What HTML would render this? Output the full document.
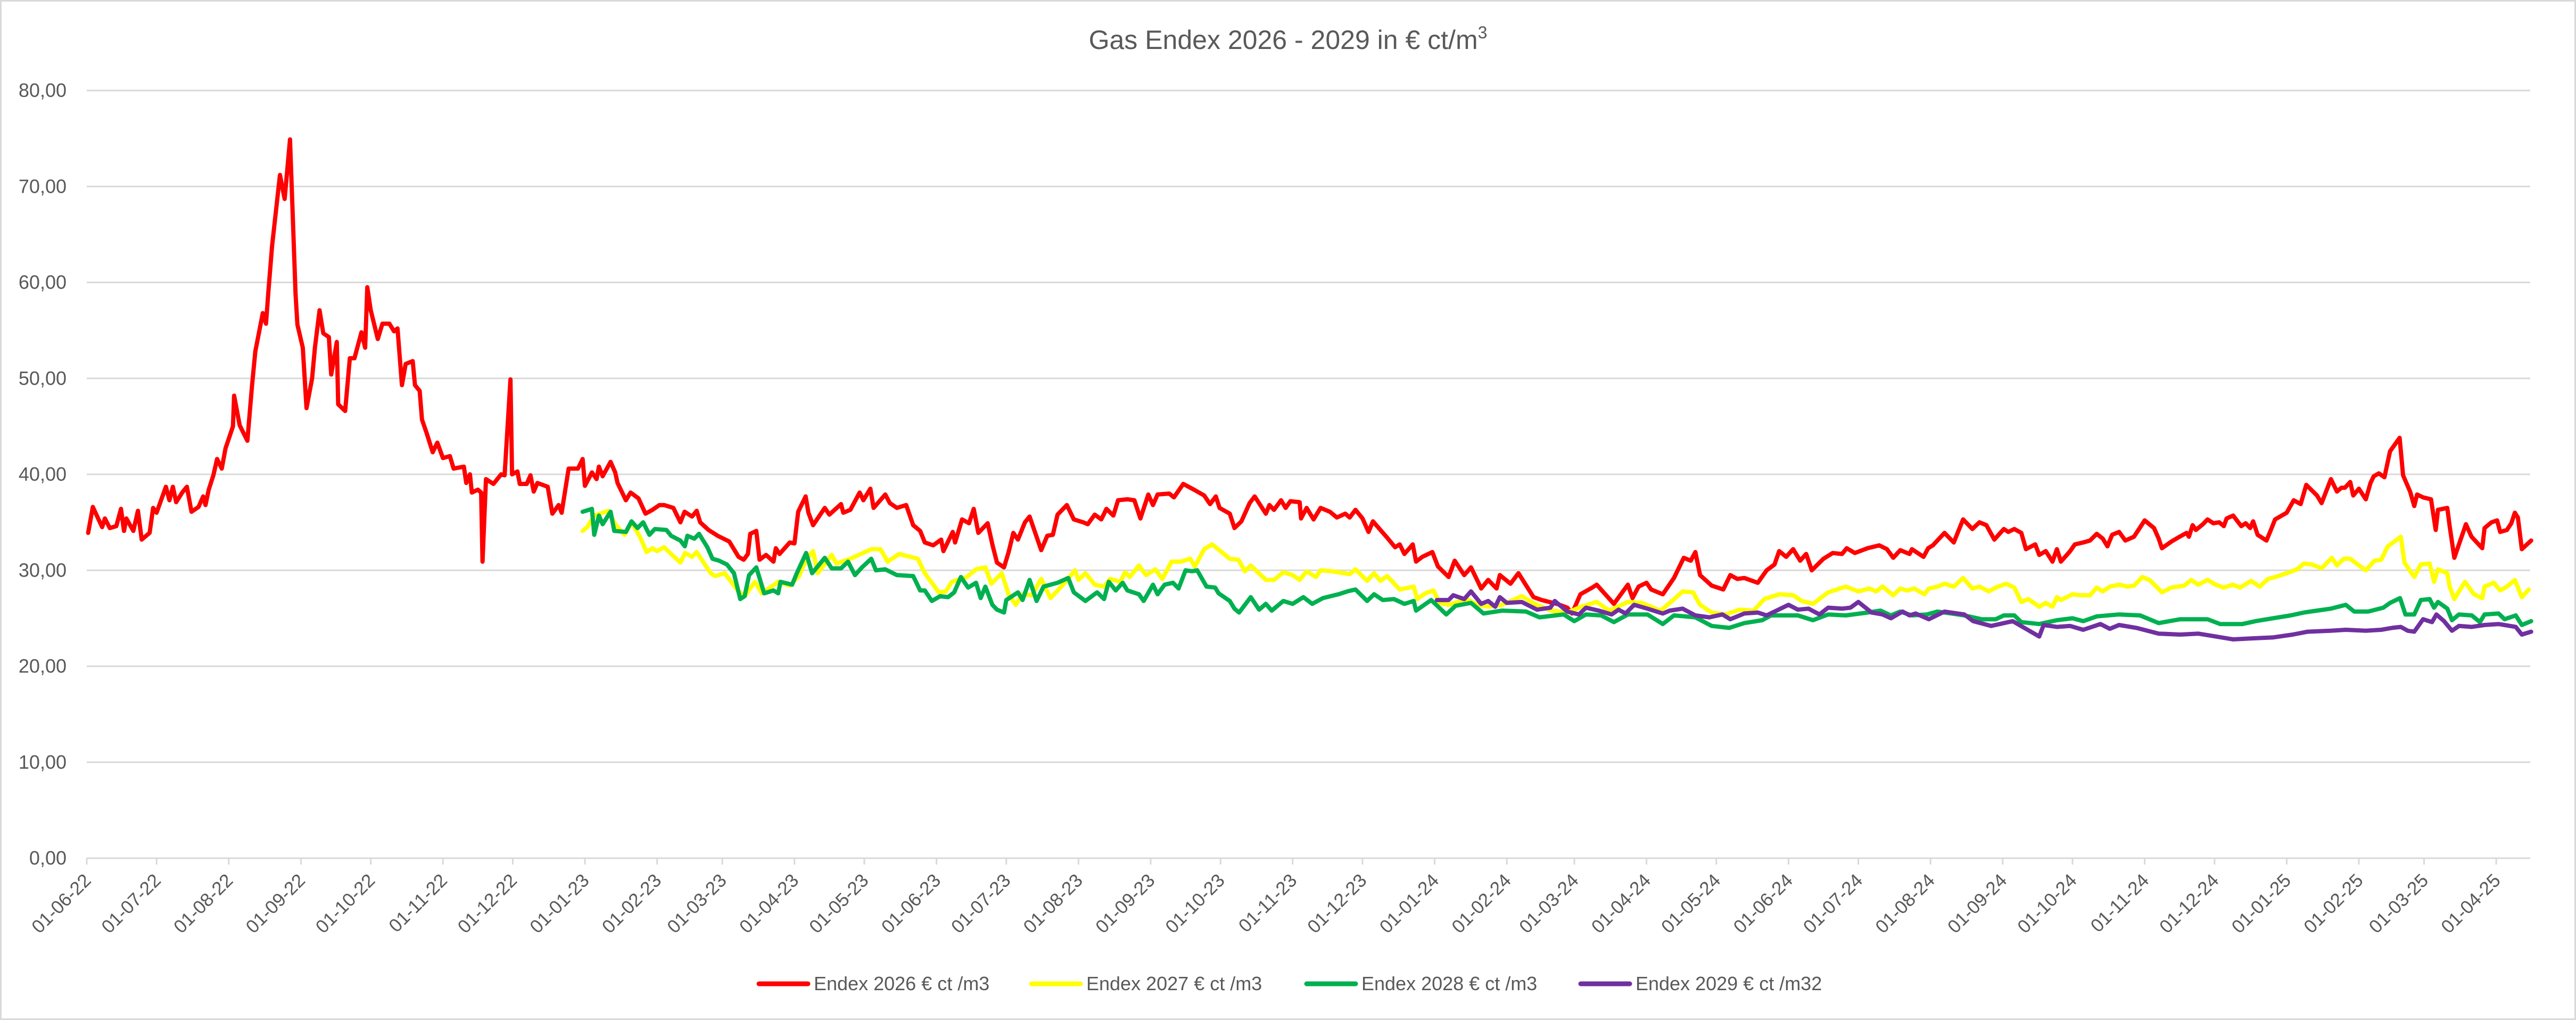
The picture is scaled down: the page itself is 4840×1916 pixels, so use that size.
<!DOCTYPE html>
<html><head><meta charset="utf-8"><style>
html,body{margin:0;padding:0;background:#fff}
svg{display:block;font-family:"Liberation Sans",sans-serif}
</style></head><body>
<svg id="chart" width="4840" height="1916" viewBox="0 0 4840 1916" xmlns="http://www.w3.org/2000/svg">
<rect x="1.5" y="1.5" width="4837" height="1913" fill="#fff" stroke="#d9d9d9" stroke-width="3"/>
<text x="2420" y="92" text-anchor="middle" font-size="50" fill="#595959">Gas Endex 2026 - 2029 in € ct/m<tspan font-size="32" dy="-20">3</tspan></text>
<g id="grid"></g>
<g id="yticks"></g>
<g id="xticks"></g>
<g id="series"></g>
<g id="legend"></g>
</svg>
<script>
// ---- data (day offset from 01-06-2022, value in € ct/m3) ----
const yTicks = [0,10,20,30,40,50,60,70,80];
const yTickLabels = ["0,00","10,00","20,00","30,00","40,00","50,00","60,00","70,00","80,00"];
const xTickLabels = ["01-06-22","01-07-22","01-08-22","01-09-22","01-10-22","01-11-22","01-12-22","01-01-23","01-02-23","01-03-23","01-04-23","01-05-23","01-06-23","01-07-23","01-08-23","01-09-23","01-10-23","01-11-23","01-12-23","01-01-24","01-02-24","01-03-24","01-04-24","01-05-24","01-06-24","01-07-24","01-08-24","01-09-24","01-10-24","01-11-24","01-12-24","01-01-25","01-02-25","01-03-25","01-04-25"];
const seriesNames = ["Endex 2026 € ct /m3","Endex 2027 € ct /m3","Endex 2028 € ct /m3","Endex 2029 € ct /m32"];
const seriesColors = ["#ff0000","#ffff00","#00b050","#7030a0"];

const red26Days = [0.6,2.6,6.6,7.8,9.9,12.7,14.7,16,17,20,22,23.6,27,28.5,30,34,35.5,37,38.4,41,43,45,48,50,51,52.4,54.4,56,58,59.6,62.8,63.3,65.7,69,71,72.4,75.6,77,78,79.6,83,85,87.3,89.7,90.5,92.8,94.4,96.8,98,100,101.6,104,105,107.4,108,111,113,115,118,119.6,120.5,122,125,127,130,132,133.5,135.4,137,140,141,143,144,146,148.6,150.6,153,156,157.6,162,163,164.6,165.4,168,169.4,170,171.5,174.7,178,179.5,182,182.7,185,186,189,190.6,192,193.6,198,200,202.7,204,207,211,213,214,217,219,220,221.6,225,227,228,231.6,233.6,237,240,243,246,248,252,255,256.8,260,262,263.5,267.1,271,276,280,282.2,284,285,287.6,289,291.8,295,296,297.6,299.4,302,304,305.6,308.8,310,312,317,319,324,325,328,332,333.6,336.6,338,343,345,348,352,355,358,360,363.6,367,368,372,373,376,379,381,383,387,389,391,394,396,398,400,403,405,410,412.6,415,417,421,424,428,430,433,435.8,438,441,443,447,450,452.6,456,458,460,465,467,471,475.6,480,482.5,485,486.6,491,493,496,499.5,501.7,506.5,508,510,513,515,517,521,521.6,524,527,530,534,537,540.6,542.5,545,548,550.6,552.5,555.7,558.6,562,564,566,569.6,571,573.7,578,580.4,585,587.6,591.7,594.6,599,602,605.6,607,611.6,615,621.5,625,631.5,636,638,641.6,646.7,648.6,656,662,664,666.6,670,672,677,681.8,686,689,691,693,698,703,706,709,712,717.8,721.6,725,727,730,733,736,738.6,741,746,750,754,756,759.5,765,770,773.3,776,779,783,784,789,791,793,798,802,806,810,813,816,819.4,823.5,825.4,828,831,833,837,838.7,841.5,844.4,846.3,848,852,854,857.6,860.5,863.4,866,868,870,873,875.7,879.4,881.3,884,888,890,891.4,895.5,899,902,903,904.6,906,909,911,913.5,916,918,919.2,922,925.5,927.4,929.3,930.6,932.5,936.3,938.2,940,945,948,951,953.4,958,960,964,966.6,968.5,970,972.3,973.6,976,979,981,982.4,984.6,987,989.4,993.5,995,998,999.8,1001,1003.6,1007,1009,1010,1014,1015,1017,1019,1022,1024.4,1029,1030,1033,1035.4,1036.7,1039.6,1041.5,1043,1044.3,1046,1050];
const red26Vals = [33.9,36.6,34.5,35.4,34.4,34.6,36.4,34.1,35.4,34.1,36.2,33.2,33.9,36.5,36.0,38.7,37.3,38.7,37.1,38.1,38.7,36.1,36.6,37.7,36.8,38.4,39.9,41.6,40.6,42.7,45.0,48.2,45.1,43.5,49.3,52.8,56.8,55.7,59.0,63.8,71.2,68.7,74.9,58.8,55.6,53.2,46.9,50.0,53.2,57.1,54.7,54.3,50.4,53.8,47.3,46.6,52.1,52.1,54.8,53.2,59.5,57.1,54.1,55.7,55.7,54.9,55.2,49.3,51.5,51.8,49.3,48.7,45.7,44.3,42.3,43.3,41.7,41.9,40.6,40.8,39.1,40.0,38.1,38.4,38.1,30.9,39.5,39.0,40.0,39.9,49.9,40.0,40.3,39.0,39.0,39.9,38.2,39.1,38.7,35.9,36.8,36.0,40.6,40.6,41.6,38.8,40.2,39.5,40.8,39.8,41.3,40.2,39.1,37.3,38.1,37.5,35.9,36.3,36.8,36.8,36.5,35.0,36.1,35.6,36.2,35.0,34.2,33.6,33.0,31.4,31.1,31.7,33.8,34.1,31.1,31.6,30.9,32.3,31.7,32.2,32.9,32.8,36.1,37.7,36.0,34.7,36.5,35.8,36.9,36.0,36.3,38.1,37.3,38.5,36.5,37.9,37.0,36.5,36.8,34.7,34.1,32.9,32.6,33.2,32.0,34.0,32.9,35.3,34.9,36.4,33.9,34.9,32.7,30.8,30.3,31.9,33.9,33.2,35.0,35.6,32.1,33.6,33.7,35.8,36.8,35.3,35.0,34.8,35.8,35.3,36.4,35.7,37.3,37.4,37.3,35.4,37.9,36.8,37.9,38.0,37.6,39.0,38.4,37.8,36.9,37.7,36.5,35.9,34.4,35.1,37.0,37.7,35.9,36.8,36.3,37.3,36.5,37.2,37.1,35.4,36.5,35.3,36.5,36.1,35.5,35.9,35.5,36.3,35.4,34.0,35.1,34.2,33.4,32.4,32.7,31.7,32.7,30.9,31.4,31.9,30.4,29.3,31.0,29.5,30.3,28.1,29.0,28.1,29.5,28.6,29.7,27.2,26.9,26.5,26.1,25.5,27.5,28.2,28.5,26.5,28.5,27.1,28.3,28.7,28.0,27.5,29.2,31.3,31.0,31.9,29.5,28.4,28.0,29.5,29.1,29.2,28.7,30.0,30.6,32.0,31.4,32.2,31.0,31.7,30.0,31.2,31.8,31.7,32.3,31.8,32.3,32.6,32.2,31.3,32.1,31.7,32.2,31.4,32.3,32.6,33.9,32.9,35.3,34.3,35.0,34.7,33.2,34.3,34.0,34.3,33.9,32.2,32.7,31.6,32.0,30.9,32.2,30.9,32.0,32.7,32.9,33.1,33.8,33.3,32.5,33.7,34.0,33.1,33.5,34.2,35.2,34.4,33.3,32.3,33.0,33.5,33.9,33.5,34.7,34.2,34.8,35.3,34.9,35.0,34.6,35.4,35.7,34.6,34.9,34.4,35.1,33.7,33.1,34.2,35.3,36.0,37.3,36.9,38.9,37.8,37.0,39.5,38.2,38.6,38.6,39.2,37.8,38.5,37.4,39.1,39.8,40.1,39.7,42.4,43.8,39.9,38.2,36.7,37.9,37.6,37.4,34.2,36.3,36.5,34.6,31.3,32.7,34.8,33.5,32.3,34.4,35.0,35.2,34.0,34.2,34.9,36.0,35.5,32.2,33.1];

const y27Days = [213,215,218,224,227,231,234,237.6,240.5,243,245,248,251,255,257,260,262,268,270,274,279.6,282.7,287,290,297,302,306,309,312,314,320,322,328,337,341,344,349,357,360,363,366,369,371.6,378,380,382,386,388.6,393,396,399,402,406,410,414,419,424.5,426,429,433,437,439.6,444,446,448,452,455,459,462,466,470,474,476,480,483.4,487,491,494.7,497.5,500,506.5,510,514,518,521,524,528,530,535,542.5,545,550,553,555.7,558.6,564,570,571.5,575,578.5,581,585,589,593.6,596.5,602,608,616.4,622,629,636,642,648.6,654,662,668,676,681,685.5,690,693,698,704,710,716,720.6,727,733,736.7,741.5,748,755.6,761,765.7,768.6,771.4,776,779,782,785,789.4,791.3,795,798,802,806,810,813,817,820,824.5,828,831,834,838.7,841.5,844.4,846.3,848,853,856.7,860.5,863.4,866,869,873,876.6,879.4,883,886,889,891.4,895.5,901,904,907,911,914.5,918,922,925,929.7,933.4,937,940,945,949.5,952.4,956,960,964.4,966.6,969.5,972.3,975,979,982.7,985.6,988.4,991.3,994,995.6,999.8,1002.6,1006.4,1008.3,1010,1014,1015,1017,1019,1021.6,1025.4,1029,1030,1034,1036.7,1039.6,1043,1046,1049];
const y27Vals = [34.1,34.5,35.7,36.2,34.8,33.7,35.0,33.5,31.9,32.3,32.0,32.4,31.7,30.8,31.8,31.4,31.9,29.7,29.4,29.7,27.9,27.3,28.8,27.6,28.8,28.4,29.4,31.1,32.0,29.7,31.6,30.7,31.2,32.2,32.2,30.9,31.7,31.2,29.7,28.7,27.7,27.8,28.8,29.3,29.7,30.1,30.3,28.6,29.7,27.5,26.4,27.5,27.4,29.1,27.1,28.4,30.0,29.0,29.7,28.5,28.3,29.1,28.8,29.8,29.3,30.5,29.5,30.1,29.1,30.9,30.9,31.2,30.4,32.2,32.7,32.0,31.2,31.1,29.9,30.5,29.0,29.0,29.8,29.5,29.0,29.9,29.3,30.0,29.9,29.6,30.1,28.9,29.7,28.9,29.4,28.0,28.3,27.0,27.6,27.9,26.6,26.4,26.7,26.9,26.5,26.2,26.4,27.3,26.5,25.8,25.6,26.2,26.7,25.8,26.7,26.6,25.8,26.8,27.8,27.7,26.4,25.6,25.4,25.9,25.8,27.0,27.5,27.4,26.8,26.5,27.7,28.3,27.8,28.1,27.8,28.3,27.4,28.1,27.9,28.1,27.5,28.1,28.3,28.6,28.3,29.2,28.1,28.3,27.8,28.2,28.6,28.2,26.7,27.0,26.2,26.6,26.2,27.2,26.9,27.5,27.4,27.4,28.2,27.8,28.3,28.5,28.3,28.4,29.3,29.0,28.3,27.7,28.2,28.4,29.0,28.5,29.0,28.5,28.2,28.5,28.2,28.9,28.3,29.1,29.3,29.7,30.1,30.7,30.6,30.2,31.3,30.5,31.2,31.2,30.7,30.0,31.0,31.1,32.5,33.0,33.5,30.8,29.3,30.6,30.7,28.8,30.1,29.7,28.3,27.0,27.8,28.8,27.5,27.1,28.3,28.7,27.9,28.3,29.0,27.2,28.0];

const g28Days = [213,217,218,220,221.6,225,226.6,231.6,234,236.6,239,241.7,244,249,251,255,256.9,258,261,263,266.6,268.8,271.6,275,278,280.7,282.6,284.5,287.6,291,295,297,298,303,305,309,311.6,317,320,324,327,330,333,337,339,343,348,355,358,360,363,366.6,370,372.6,375.5,378.6,382,384,386,389,391,394,395,400,402,405,408,411,417,421.6,424,429,434,437,439,442,445,447,452,454,458,460,463,466.6,469,472,474.8,477,481,484.7,486.2,491,493,495,500,503.6,506.5,509,514,518,522.6,526.4,531,537.7,541.5,545,550,553,556.7,561.5,566,570,571,577.5,584,588,594.6,600,608,618.3,624,634.4,639,644,650.5,656,662,670.4,677,681.8,691,698,705.5,712,719.7,723.5,735,741.5,748,755.6,765,770.5,775,779,784,790.4,795,801,806.5,814,820,823.5,828,831,838.7,846.3,853,857.6,863.4,873,882,890,899.3,911,916.4,926,931.6,939,946.7,952.4,958,964,970.4,974,980,986.5,989.4,993.7,996,999.8,1002.6,1006.4,1008.3,1010,1014,1016,1019,1024.5,1028,1030,1036,1038.6,1043.4,1046,1050];
const g28Vals = [36.1,36.4,33.7,35.7,34.8,36.1,34.1,34.0,35.1,34.4,35.0,33.7,34.3,34.2,33.6,33.1,32.5,33.6,33.3,33.8,32.4,31.2,31.0,30.6,29.7,27.0,27.3,29.5,30.3,27.6,27.9,27.6,28.8,28.5,29.7,31.8,29.7,31.3,30.2,30.2,30.9,29.5,30.3,31.2,30.0,30.1,29.5,29.4,27.9,27.9,26.8,27.3,27.2,27.7,29.3,28.2,28.7,27.1,28.3,26.4,25.9,25.6,26.9,27.7,26.9,29.0,26.8,28.3,28.7,29.2,27.7,26.8,27.7,27.0,28.8,27.9,28.7,27.9,27.5,26.8,28.5,27.5,28.5,28.7,28.1,30.0,29.9,30.0,28.3,28.2,27.6,26.8,26.0,25.6,27.2,25.9,26.5,25.8,26.8,26.5,27.2,26.5,27.1,27.5,27.8,28.0,26.8,27.5,26.9,27.0,26.5,26.8,25.8,26.9,25.4,26.3,26.6,25.5,25.8,25.7,25.1,25.4,24.7,25.4,25.3,24.6,25.4,25.4,24.4,25.3,25.1,24.2,24.0,24.5,24.8,25.3,25.3,24.8,25.4,25.3,25.6,25.8,25.3,25.7,25.3,25.4,25.7,25.5,25.3,24.9,24.9,25.3,25.3,24.6,24.4,24.8,25.0,24.7,25.2,25.4,25.3,24.5,24.9,24.9,24.4,24.4,24.7,25.0,25.3,25.6,25.8,26.0,26.4,25.7,25.7,26.1,26.6,27.1,25.4,25.4,26.9,27.0,26.1,26.7,26.0,24.8,25.4,25.3,24.6,25.4,25.5,24.9,25.3,24.3,24.7];

const p29Days = [580,585,587,591.7,594.6,599,602,605,607,610,616.4,623,628.7,630.6,636,641,644,649.5,655,658,661,664.7,670.4,677,680,685.5,691,697,702.6,706,712,717.8,721.6,731,735,739.6,744.3,748,754,757.6,761,766.7,771.4,775,780,783,785.6,791.3,798,806.5,810.3,818,827.3,833,838.7,840.6,846.3,852,857.6,865,869,873,880.4,890,899.3,907,914.5,922,929.7,939,947.6,954,964,970.4,979,985.6,990.3,994,997,999.8,1003.6,1007.4,1009.3,1012.6,1016,1019,1024.5,1030,1036,1043.4,1046,1050];
const p29Vals = [26.9,26.9,27.4,27.0,27.8,26.5,26.8,26.2,27.2,26.6,26.7,25.9,26.1,26.8,25.7,25.4,26.1,25.8,25.4,25.9,25.5,26.4,26.0,25.5,25.8,26.0,25.3,25.1,25.4,24.9,25.5,25.6,25.3,26.4,25.9,26.0,25.4,26.1,26.0,26.1,26.7,25.6,25.4,25.0,25.7,25.3,25.5,24.9,25.7,25.4,24.7,24.2,24.7,23.9,23.1,24.3,24.1,24.2,23.8,24.4,23.9,24.3,24.0,23.4,23.3,23.4,23.1,22.8,22.9,23.0,23.3,23.6,23.7,23.8,23.7,23.8,24.0,24.1,23.7,23.6,24.9,24.6,25.4,24.7,23.7,24.2,24.1,24.3,24.4,24.1,23.3,23.6];

// ---- axis functions ----
const NS = "http://www.w3.org/2000/svg";
const X0 = 163, PXDAY = 4.374, Y0 = 1612, PXUNIT = 18.025, XEND = 4754;
function xScale(d){ return X0 + d * PXDAY; }
function yScale(v){ return Y0 - v * PXUNIT; }
function mk(tag, attrs, parent){ const e = document.createElementNS(NS, tag); for (const k in attrs) e.setAttribute(k, attrs[k]); parent.appendChild(e); return e; }
function monthDay(label){ // label "01-MM-YY" -> days since 2022-06-01
  const p = label.split("-"); const dt = Date.UTC(2000 + (+p[2]), (+p[1]) - 1, 1);
  return Math.round((dt - Date.UTC(2022, 5, 1)) / 86400000);
}
const grid = document.getElementById("grid");
const yt = document.getElementById("yticks");
yTicks.forEach((v, i) => {
  const l = mk("line", {x1: X0, x2: XEND, y1: yScale(v), y2: yScale(v), stroke: "#d9d9d9", "stroke-width": 3}, grid);
  
  
  const t = mk("text", {x: 125, y: yScale(v) + 12, "text-anchor": "end", "font-size": 36, fill: "#595959"}, yt);
  
  
  t.textContent = yTickLabels[i];
});
const xt = document.getElementById("xticks");
xTickLabels.forEach(lab => {
  const x = xScale(monthDay(lab));
  const tk = mk("line", {x1: x, x2: x, y1: Y0, y2: Y0 + 12, stroke: "#d9d9d9", "stroke-width": 3}, xt);
  
  
  const t = mk("text", {x: 0, y: 0, "text-anchor": "end", "font-size": 35, fill: "#595959", transform: "translate(" + (x + 10) + "," + (Y0 + 44) + ") rotate(-45)"}, xt);
  
  
  t.textContent = lab;
});
const ser = document.getElementById("series");
const allDays = [red26Days, y27Days, g28Days, p29Days];
const allVals = [red26Vals, y27Vals, g28Vals, p29Vals];
const serNames = ["line-endex-2026", "line-endex-2027", "line-endex-2028", "line-endex-2029"];
allDays.forEach((ds, s) => {
  const pts = ds.map((d, i) => xScale(d).toFixed(1) + "," + yScale(allVals[s][i]).toFixed(1)).join(" ");
  const pl = mk("polyline", {points: pts, fill: "none", stroke: seriesColors[s], "stroke-width": 8, "stroke-linejoin": "round", "stroke-linecap": "round"}, ser);
  
  
});
const lg = document.getElementById("legend");
const legX = [1426, 1938, 2455, 2970];
seriesNames.forEach((n, s) => {
  const g = mk("g", {}, lg);
  
  
  mk("line", {x1: legX[s], x2: legX[s] + 92, y1: 1848, y2: 1848, stroke: seriesColors[s], "stroke-width": 9, "stroke-linecap": "round"}, g);
  const t = mk("text", {x: legX[s] + 103, y: 1860, "font-size": 36, fill: "#595959"}, g);
  t.textContent = n;
});
</script>
</body></html>
